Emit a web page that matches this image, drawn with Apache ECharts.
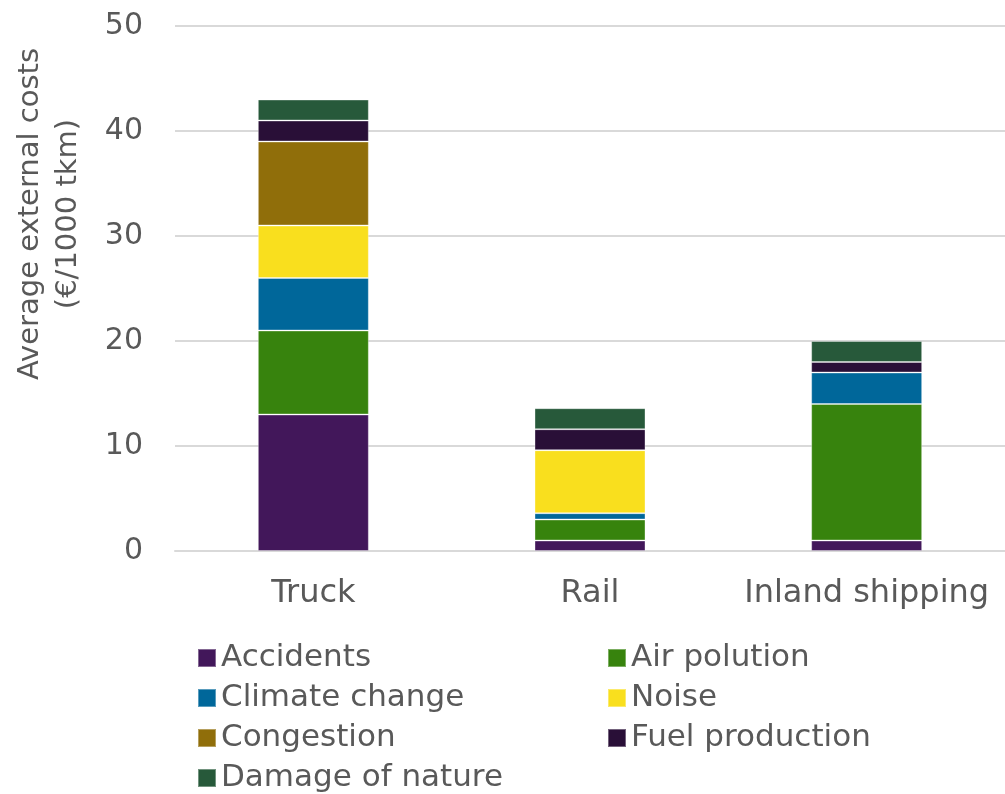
<!DOCTYPE html>
<html>
<head>
<meta charset="utf-8">
<script src="https://cdn.jsdelivr.net/npm/echarts@6/dist/echarts.min.js"></script>
<style>
  html, body { margin: 0; padding: 0; background: #ffffff; }
  #chart { width: 1005px; height: 794px; }
</style>
</head>
<body>
<div id="chart"></div>
<script>
// Transport modes on the category axis
const modes = ['Truck', 'Rail', 'Inland shipping'];

// External cost components, €/1000 tkm, stacked per mode
const accidents      = [13, 1, 1];
const airPolution    = [8, 2, 13];
const climateChange  = [5, 0.6, 3];
const noise          = [5, 6, 0];
const congestion     = [8, 0, 0];
const fuelProduction = [2, 2, 1];
const damageOfNature = [2, 2, 2];

const yTicks = [0, 10, 20, 30, 40, 50];

const seriesNames = ['Accidents', 'Air polution', 'Climate change', 'Noise',
                     'Congestion', 'Fuel production', 'Damage of nature'];
const seriesValues = [accidents, airPolution, climateChange, noise,
                      congestion, fuelProduction, damageOfNature];
const seriesColors = ['#42175a', '#37830d', '#00679a', '#f9df1e',
                      '#906e0a', '#290f37', '#27593a'];

const FONT = 'DejaVu Sans';
const TEXT_COLOR = '#595959';

const chart = echarts.init(document.getElementById('chart'), null, { renderer: 'canvas' });

const legendCommon = {
  orient: 'vertical',
  top: 637,
  height: 170,
  itemWidth: 18,
  itemHeight: 18,
  itemGap: 8,
  icon: 'rect',
  textStyle: { fontFamily: FONT, fontSize: 31, color: TEXT_COLOR, lineHeight: 32 },
  selectedMode: false
};

chart.setOption({
  animation: false,
  textStyle: { fontFamily: FONT },
  grid: { left: 175, top: 26, width: 837, height: 525, containLabel: false },
  xAxis: {
    type: 'category',
    data: modes,
    axisTick: { show: false },
    axisLine: { lineStyle: { color: '#d9d9d9', width: 2 } },
    axisLabel: { interval: 0, fontFamily: FONT, fontSize: 32, color: TEXT_COLOR, margin: 27 }
  },
  yAxis: {
    type: 'value',
    min: yTicks[0],
    max: yTicks[yTicks.length - 1],
    interval: yTicks[1] - yTicks[0],
    axisLine: { show: false },
    axisTick: { show: false },
    axisLabel: { fontFamily: FONT, fontSize: 30, color: TEXT_COLOR, margin: 32 },
    splitLine: { lineStyle: { color: '#d9d9d9', width: 2 } }
  },
  legend: [
    Object.assign({}, legendCommon, { left: 192, data: ['Accidents', 'Climate change', 'Congestion', 'Damage of nature'] }),
    Object.assign({}, legendCommon, { left: 602, data: ['Air polution', 'Noise', 'Fuel production'] })
  ],
  graphic: [{
    type: 'text',
    x: 49,
    y: 214,
    rotation: Math.PI / 2,
    style: {
      text: 'Average external costs\n(€/1000 tkm)',
      fontFamily: FONT,
      fontSize: 29,
      lineHeight: 38,
      fill: TEXT_COLOR,
      align: 'center',
      verticalAlign: 'middle'
    }
  }],
  series: seriesNames.map((name, i) => ({
    name: name,
    type: 'bar',
    stack: 'total',
    barWidth: 111,
    data: seriesValues[i],
    itemStyle: { color: seriesColors[i], borderColor: 'rgba(255,255,255,0.35)', borderWidth: 1 }
  }))
});
</script>
</body>
</html>
